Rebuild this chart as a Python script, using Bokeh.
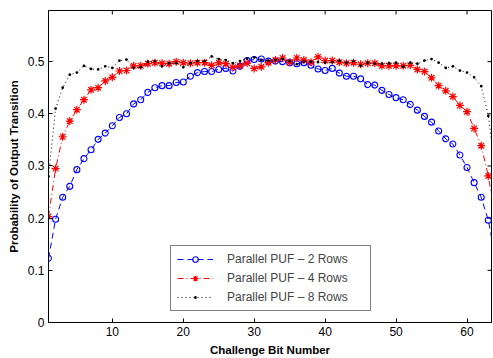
from bokeh.plotting import figure
from bokeh.models import (Range1d, FixedTicker, CustomJSTickFormatter,
                          Legend, LegendItem)
from bokeh.embed import file_html
from bokeh.resources import INLINE

bits = list(range(1, 65))
rows2 = [0.123, 0.198, 0.240, 0.261, 0.293, 0.314, 0.331, 0.351, 0.363, 0.377,
         0.393, 0.400, 0.419, 0.427, 0.441, 0.450, 0.454, 0.454, 0.460, 0.461,
         0.472, 0.479, 0.481, 0.481, 0.485, 0.487, 0.482, 0.491, 0.502, 0.504,
         0.505, 0.501, 0.501, 0.500, 0.498, 0.496, 0.498, 0.493, 0.486, 0.483,
         0.487, 0.478, 0.472, 0.472, 0.467, 0.456, 0.455, 0.445, 0.437, 0.431,
         0.427, 0.418, 0.407, 0.395, 0.384, 0.367, 0.352, 0.342, 0.321, 0.297,
         0.268, 0.240, 0.196, 0.125]
rows4 = [0.203, 0.295, 0.356, 0.386, 0.408, 0.427, 0.446, 0.450, 0.463, 0.470,
         0.482, 0.483, 0.492, 0.492, 0.496, 0.498, 0.497, 0.496, 0.500, 0.498,
         0.497, 0.498, 0.498, 0.493, 0.498, 0.496, 0.489, 0.492, 0.497, 0.487,
         0.490, 0.498, 0.503, 0.507, 0.499, 0.507, 0.503, 0.499, 0.509, 0.502,
         0.502, 0.499, 0.497, 0.498, 0.495, 0.497, 0.497, 0.492, 0.492, 0.492,
         0.492, 0.493, 0.485, 0.481, 0.469, 0.454, 0.444, 0.433, 0.416, 0.404,
         0.372, 0.339, 0.281, 0.200]
rows8 = [0.280, 0.410, 0.450, 0.475, 0.479, 0.492, 0.486, 0.485, 0.491, 0.488,
         0.502, 0.504, 0.488, 0.489, 0.500, 0.501, 0.491, 0.497, 0.497, 0.489,
         0.497, 0.501, 0.501, 0.510, 0.505, 0.503, 0.497, 0.501, 0.506, 0.508,
         0.503, 0.502, 0.503, 0.505, 0.501, 0.495, 0.500, 0.500, 0.499, 0.498,
         0.499, 0.502, 0.498, 0.501, 0.492, 0.498, 0.496, 0.496, 0.497, 0.498,
         0.490, 0.498, 0.496, 0.502, 0.505, 0.498, 0.488, 0.491, 0.483, 0.479,
         0.470, 0.453, 0.396, 0.290]
labels = ["Parallel PUF \u2013 2 Rows", "Parallel PUF \u2013 4 Rows",
          "Parallel PUF \u2013 8 Rows"]
x_ticks = [10, 20, 30, 40, 50, 60]
y_ticks = [0, 0.1, 0.2, 0.3, 0.4, 0.5]

FONT = "Liberation Sans"
X0, X1 = 1, 63.45
Y0, Y1 = 0, 0.598

p = figure(width=493, height=358, output_backend="svg", toolbar_location=None,
           x_range=Range1d(X0, X1), y_range=Range1d(Y0, Y1),
           min_border_left=48, min_border_right=2, min_border_top=10,
           min_border_bottom=35)
p.grid.visible = False
p.outline_line_color = "black"
p.outline_line_width = 1
p.background_fill_color = "white"
p.border_fill_color = "white"

fmt = CustomJSTickFormatter(code="return tick == 0 ? '0' : tick.toFixed(1);")

p.xaxis.ticker = FixedTicker(ticks=x_ticks)
p.yaxis.ticker = FixedTicker(ticks=y_ticks)
p.yaxis.formatter = fmt
for ax in (p.xaxis[0], p.yaxis[0]):
    ax.major_tick_in = 4
    ax.major_tick_out = 0
    ax.minor_tick_line_color = None
    ax.axis_line_color = "black"
    ax.major_tick_line_color = "black"
    ax.major_label_text_font = FONT
    ax.major_label_text_font_size = "12px"
    ax.major_label_text_color = "black"
    ax.axis_label_text_font = FONT
    ax.axis_label_text_font_size = "11.5px"
    ax.axis_label_text_font_style = "bold"
    ax.axis_label_text_color = "black"
    ax.major_label_standoff = 4
    ax.axis_label_standoff = 5
p.xaxis.axis_label = "Challenge Bit Number"
p.yaxis.axis_label = "Probability of Output Transition"

# inward ticks on the top and right edges (box on)
tick_dy = 4 * (Y1 - Y0) / 313.0
tick_dx = 4 * (X1 - X0) / 443.0
p.segment(x0=x_ticks, y0=[Y1] * len(x_ticks), x1=x_ticks,
          y1=[Y1 - tick_dy] * len(x_ticks), line_color="black", line_width=1)
p.segment(x0=[X1] * len(y_ticks), y0=y_ticks, x1=[X1 - tick_dx] * len(y_ticks),
          y1=y_ticks, line_color="black", line_width=1)

l2 = p.line(bits, rows2, color="#0000ff", line_width=1, line_dash="6 4")
s2 = p.scatter(bits, rows2, marker="circle", size=6, line_color="#0000ff",
               fill_color=None, line_width=1.1)
l4 = p.line(bits, rows4, color="#ff0000", line_width=1, line_dash="6 3 1 3")
s4 = p.scatter(bits, rows4, marker="asterisk", size=8, line_color="#ff0000",
               line_width=1.2)
l8 = p.line(bits, rows8, color="black", line_width=1, line_dash="1 3")
s8 = p.scatter(bits, rows8, marker="dot", size=11, line_color="black",
               fill_color="black")
# legend-only swatch: a short centred dash that reads as the small dot marker
dot_swatch = p.line(x=[1, 1], y=[-1, -1], color="black", line_width=3,
                    line_dash="2 100", line_dash_offset=85)

legend = Legend(items=[LegendItem(label=labels[0], renderers=[l2, s2]),
                       LegendItem(label=labels[1], renderers=[l4, s4]),
                       LegendItem(label=labels[2], renderers=[l8, dot_swatch])],
                location=(122, 11), orientation="vertical",
                padding=6, spacing=5, glyph_width=36, glyph_height=14,
                label_height=14, label_width=137, label_standoff=14,
                label_text_font=FONT, label_text_font_size="12px",
                border_line_color="black", border_line_width=1,
                background_fill_color="white", background_fill_alpha=1.0,
                margin=0)
p.add_layout(legend, "center")

open("out.html", "w").write(file_html(p, INLINE))
